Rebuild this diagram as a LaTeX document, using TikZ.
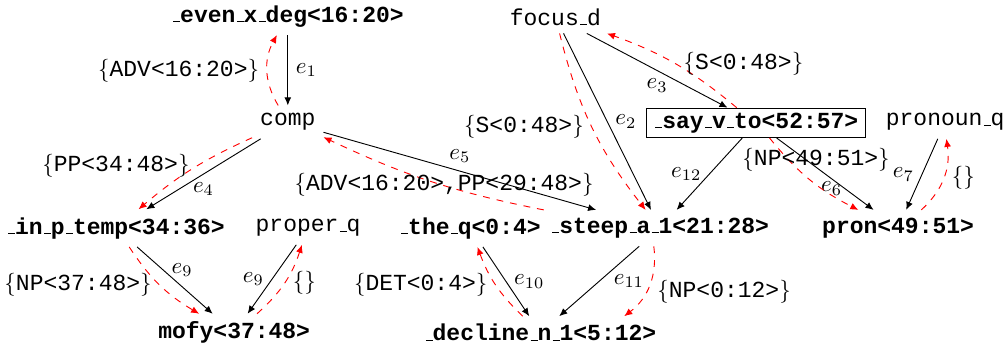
\documentclass[tikz,border=0pt]{standalone}
\usepackage{fontspec}
\setmonofont{Liberation Mono}
\usetikzlibrary{arrows.meta,positioning}
\newcommand{\uscore}{\kern.06em\vbox{\hrule width.3em}}
\newcommand{\semlab}[1]{$\{$\texttt{#1}$\}$}
\tikzset{
  plainnode/.style={font=\ttfamily},
  boldnode/.style={font=\ttfamily\bfseries},
  boxnode/.style={draw,font=\ttfamily\bfseries,inner ysep=2pt},
  deparc/.style={-{Latex[length=3.5pt,width=3pt]},black},
  semarc/.style={-{Latex[length=3.5pt,width=3pt]},draw=red,dashed}
}
\begin{document}
\begin{tikzpicture}
  \useasboundingbox (0,0) rectangle (15.41,5.367);
  % nodes
  \node[boldnode] (even) at (4.40,5.12) {\uscore even\uscore x\uscore deg<16:20>};
  \node[plainnode] (comp) at (4.40,3.50) {comp};
  \node[plainnode] (focus) at (8.49,5.11) {focus\uscore d};
  \node[boxnode] (say) at (11.56,3.49) {\uscore say\uscore v\uscore to<52:57>};
  \node[plainnode] (pronq) at (14.45,3.50) {pronoun\uscore q};
  \node[boldnode] (inp) at (1.77,1.88) {\uscore in\uscore p\uscore temp<34:36>};
  \node[plainnode] (properq) at (4.71,1.88) {proper\uscore q};
  \node[boldnode] (theq) at (7.19,1.88) {\uscore the\uscore q<0:4>};
  \node[boldnode] (steep) at (10.09,1.88) {\uscore steep\uscore a\uscore 1<21:28>};
  \node[boldnode] (pron) at (13.73,1.88) {pron<49:51>};
  \node[boldnode] (mofy) at (3.58,0.28) {mofy<37:48>};
  \node[boldnode] (decline) at (8.26,0.28) {\uscore decline\uscore n\uscore 1<5:12>};
  % dependency edges
  \draw[deparc] (even) -- node[right] {$e_1$} (comp);
  \draw[deparc] (comp) -- node[below] {$e_4$} (inp);
  \draw[deparc] (comp) -- node[above] {$e_5$} (steep);
  \draw[deparc] (focus) -- node[right] {$e_2$} (steep);
  \draw[deparc] (focus) -- node[below] {$e_3$} (say);
  \draw[deparc] (say) -- node[left] {$e_{12}$} (steep);
  \draw[deparc] (say) -- node[below,xshift=1mm] {$e_6$} (pron);
  \draw[deparc] (pronq) -- node[left] {$e_7$} (pron);
  \draw[deparc] (inp) -- node[pos=0.35,right] {$e_9$} (mofy);
  \draw[deparc] (properq) -- node[left] {$e_9$} (mofy);
  \draw[deparc] (theq) -- node[right] {$e_{10}$} (decline);
  \draw[deparc] (steep) -- node[right,xshift=1mm] {$e_{11}$} (decline);
  % semantic arcs
  \draw[semarc] (comp) to[bend left=30] node[left] {\semlab{ADV<16:20>}} (even);
  \draw[semarc] (comp) to[bend right=8] node[pos=0.45,left] {\semlab{PP<34:48>}} (inp);
  \draw[semarc] (steep) to[bend left=7] node[pos=0.5,xshift=2mm,yshift=-0.5mm] {\semlab{ADV<16:20>,PP<29:48>}} (comp);
  \draw[semarc] (focus) to[bend right=12] node[left] {\semlab{S<0:48>}} (steep);
  \draw[semarc] (say) to[bend right=10] node[right] {\semlab{S<0:48>}} (focus);
  \draw[semarc] (say) to[bend right=12] node[above,xshift=1mm] {\semlab{NP<49:51>}} (pron);
  \draw[semarc] (pron) to[bend right=28] node[right] {$\{\}$} (pronq);
  \draw[semarc] (inp) to[bend right=13] node[left] {\semlab{NP<37:48>}} (mofy);
  \draw[semarc] (mofy) to[bend right=15] node[right] {$\{\}$} (properq);
  \draw[semarc] (decline) to[bend left=13] node[left] {\semlab{DET<0:4>}} (theq);
  \draw[semarc] (steep) to[bend left=30] node[right,yshift=-1mm] {\semlab{NP<0:12>}} (decline);
\end{tikzpicture}
\end{document}
